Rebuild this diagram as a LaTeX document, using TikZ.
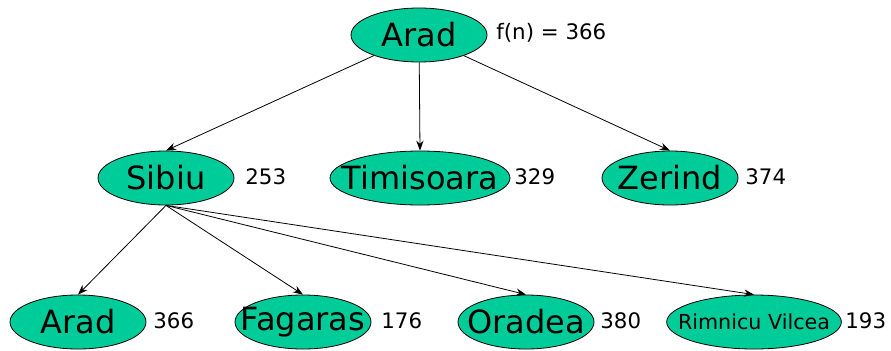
\documentclass[tikz,border=0pt]{standalone}
\usepackage{fontspec}
\setmainfont{DejaVu Sans}
\usetikzlibrary{arrows.meta,shapes.geometric}

\definecolor{citygreen}{RGB}{0,204,153}
% keep the ellipse size fixed, whatever the name length
\newcommand{\cityname}[1]{\makebox[0pt]{#1}}

\begin{document}
\begin{tikzpicture}[x=0.75pt,y=-0.75pt,>={Stealth[length=7.5pt,width=5.5pt]},line width=0.6pt,
  city/.style={ellipse,draw,fill=citygreen,inner sep=0pt,minimum width=102pt,
    minimum height=40.5pt,font=\fontsize{24}{26}\selectfont},
  hval/.style={anchor=west,inner sep=0pt,font=\fontsize{16}{18}\selectfont}]
  \useasboundingbox (0,0) rectangle (891,350);

  % root
  \node (arad)  [city] at (419,35) {\cityname{Arad}};
  \node (froot) [hval] at (496,33) {f(n) = 366};

  % first expansion
  \node (sibiu)     [city]                         at (166,178) {\cityname{Sibiu}};
  \node (timisoara) [city, minimum width=135pt]    at (420,178) {\cityname{Timisoara}};
  \node (zerind)    [city]                         at (670,178) {\cityname{Zerind}};
  \node (hsibiu)     [hval] at (245,177) {253};
  \node (htimisoara) [hval] at (514,177) {329};
  \node (hzerind)    [hval] at (745,177) {374};

  % second expansion (from Sibiu)
  \node (arad2)   [city]                      at (78,322)  {\cityname{Arad}};
  \node (fagaras) [city]                      at (303,322) {\cityname{Fagaras}};
  \node (oradea)  [city]                      at (526,322) {\cityname{Oradea}};
  \node (rimnicu) [city, minimum width=131pt,
    font=\fontsize{15.5}{18}\selectfont]      at (754,322) {\cityname{Rimnicu Vilcea}};
  \node (harad2)   [hval] at (153,321) {366};
  \node (hfagaras) [hval] at (381,321) {176};
  \node (horadea)  [hval] at (600,321) {380};
  \node (hrimnicu) [hval] at (845,321) {193};

  \path[->] (arad) edge (sibiu.north)
                   edge (timisoara.north)
                   edge (zerind.north);
  \path[->] (sibiu.south) edge (arad2.north)
                          edge (fagaras.north)
                          edge (oradea.north)
                          edge (rimnicu.north);
\end{tikzpicture}
\end{document}
